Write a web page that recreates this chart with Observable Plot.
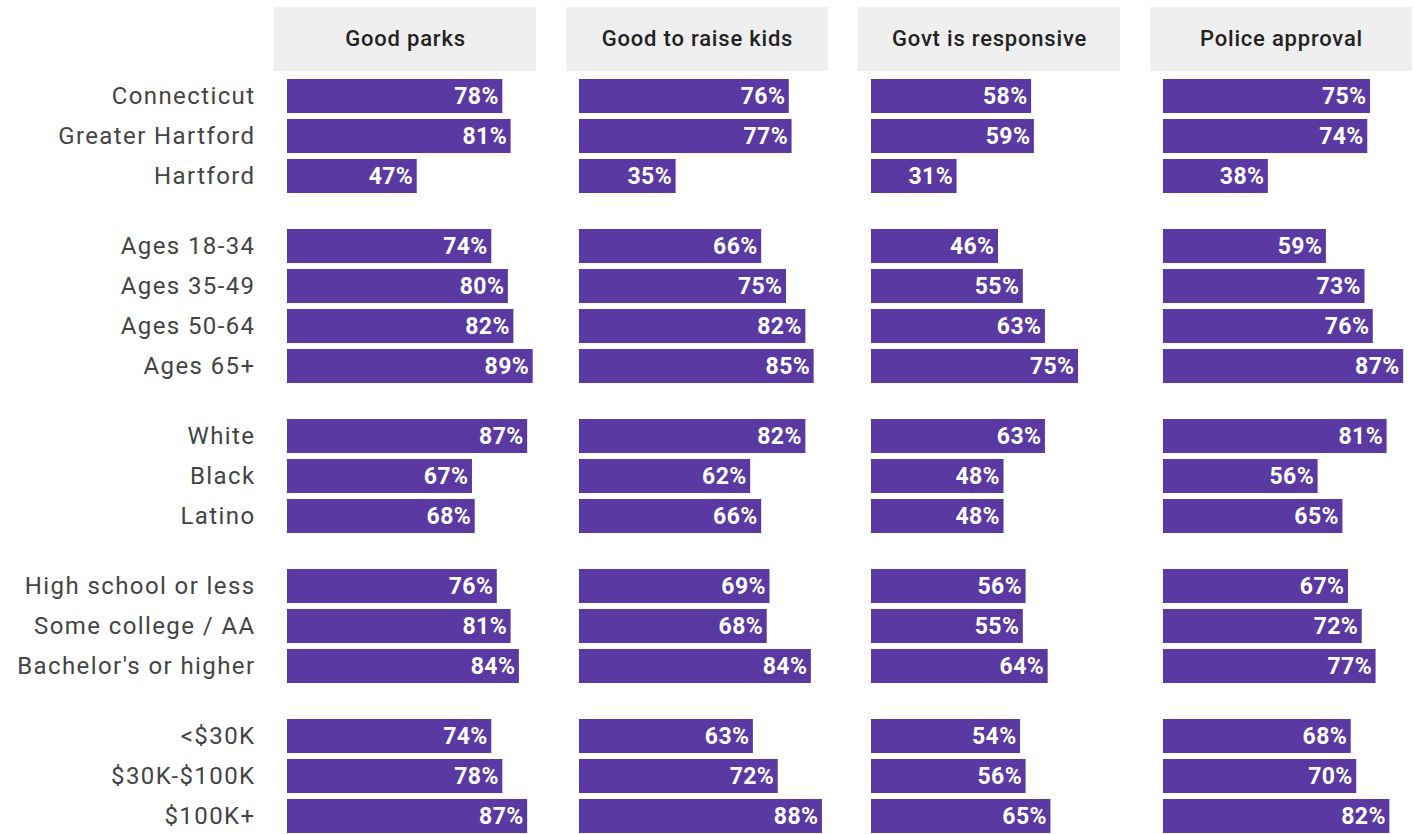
<!DOCTYPE html>
<html>
<head>
<meta charset="utf-8">
<script src="https://cdn.jsdelivr.net/npm/d3@7"></script>
<script src="https://cdn.jsdelivr.net/npm/@observablehq/plot@0.6"></script>
<style>
  html, body { margin: 0; padding: 0; background: #fff; overflow: hidden; }
  #chart svg { display: block; }
  #chart .ylab text { letter-spacing: 1.4px; }
  #chart .hdr text { letter-spacing: 0.8px; }
  #chart .val text { letter-spacing: 0.4px; }
</style>
</head>
<body>
<div id="chart"></div>
<script>
// ---- Data ----
const measures = ["Good parks", "Good to raise kids", "Govt is responsive", "Police approval"];
const categories = [
  "Connecticut", "Greater Hartford", "Hartford",
  "Ages 18-34", "Ages 35-49", "Ages 50-64", "Ages 65+",
  "White", "Black", "Latino",
  "High school or less", "Some college / AA", "Bachelor's or higher",
  "<$30K", "$30K-$100K", "$100K+"
];
const groupOf = [0,0,0, 1,1,1,1, 2,2,2, 3,3,3, 4,4,4];
const goodParks       = [78,81,47, 74,80,82,89, 87,67,68, 76,81,84, 74,78,87];
const goodToRaiseKids = [76,77,35, 66,75,82,85, 82,62,66, 69,68,84, 63,72,88];
const govtResponsive  = [58,59,31, 46,55,63,75, 63,48,48, 56,55,64, 54,56,65];
const policeApproval  = [75,74,38, 59,73,76,87, 81,56,65, 67,72,77, 68,70,82];
const seriesValues = [goodParks, goodToRaiseKids, govtResponsive, policeApproval];

// ---- Layout constants ----
const groupGap = 0.75;        // extra space between groups, in row units
const barHalf = 0.425;        // half bar thickness, in row units
const headerTop = -2.225, headerBottom = -0.625, headerMid = -1.45;
const xMax = 90.2;

// row positions (row index + gap per group)
const positions = categories.map((c, i) => i + groupOf[i] * groupGap);
const labelAt = new Map(positions.map((p, i) => [p, categories[i]]));

const rows = [];
measures.forEach((m, mi) => {
  categories.forEach((c, ci) => {
    rows.push({measure: m, category: c, pos: positions[ci], value: seriesValues[mi][ci]});
  });
});

const purple = "#5a39a3";

const chart = Plot.plot({
  width: 1414,
  height: 834,
  marginLeft: 274,
  marginRight: 2,
  marginTop: 0,
  marginBottom: 0,
  style: {fontFamily: "Roboto, 'Noto Sans', sans-serif", background: "#fff"},
  fx: {domain: measures, axis: null, paddingInner: 30 / 292, paddingOuter: 0},
  x: {domain: [0, xMax], axis: null, insetLeft: 13},
  y: {domain: [-2.4, 18.45], range: [0, 834]},
  marks: [
    Plot.rect(measures, {
      fx: d => d, y1: headerTop, y2: headerBottom, fill: "#efefef"
    }),
    Plot.text(measures, {
      fx: d => d, y: headerMid, text: d => d, frameAnchor: "middle",
      fontSize: 22, fontWeight: 500, fill: "#222", className: "hdr"
    }),
    Plot.rect(rows, {
      fx: "measure", x1: 0, x2: "value",
      y1: d => d.pos - barHalf, y2: d => d.pos + barHalf,
      fill: purple
    }),
    Plot.text(rows, {
      fx: "measure", x: "value", y: "pos", text: d => d.value + "%",
      textAnchor: "end", dx: -4, fill: "white", fontSize: 23, fontWeight: 700,
      className: "val"
    }),
    Plot.axisY(positions, {
      tickSize: 0, tickPadding: 19, tickFormat: d => labelAt.get(d),
      fontSize: 24, fill: "#444", label: null, className: "ylab"
    })
  ]
});
document.getElementById("chart").appendChild(chart);
</script>
</body>
</html>
